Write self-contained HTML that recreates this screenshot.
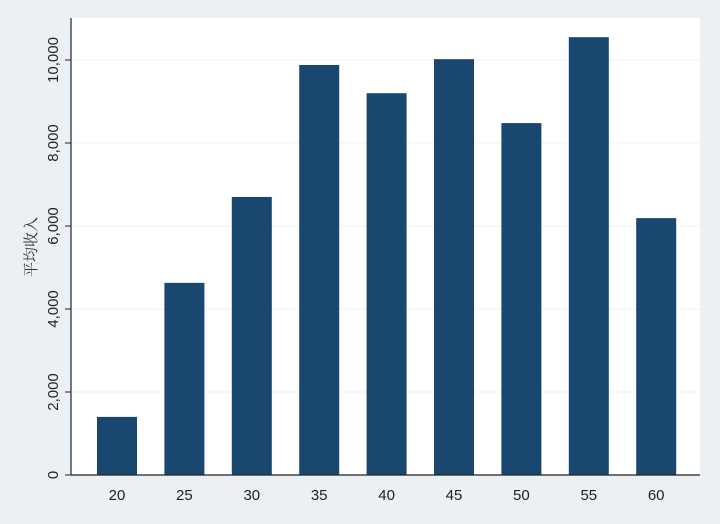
<!DOCTYPE html>
<html><head><meta charset="utf-8"><style>
html,body{margin:0;padding:0;background:#eaf0f4;}
svg{display:block;font-family:"Liberation Sans","Noto Sans CJK SC",sans-serif;}
</style></head><body>
<svg width="720" height="524">
<rect x="0" y="0" width="720" height="524" fill="#eaf0f4"/>
<rect x="71" y="18" width="629" height="457" fill="#ffffff"/>
<g id="grid"></g><g id="bars"></g><g id="axes"></g>
<text x="0" y="0" transform="translate(36,247) rotate(-90)" text-anchor="middle" font-size="15" fill="#333" font-family="'Noto Serif CJK SC','Noto Sans CJK SC',serif">平均收入</text>
</svg>
<script>
const categories=[20,25,30,35,40,45,50,55,60];
const values=[1400,4630,6700,9880,9200,10020,8480,10550,6190];
const yTicks=[0,2000,4000,6000,8000,10000];
const yTickLabels=["0","2,000","4,000","6,000","8,000","10,000"];
const NS="http://www.w3.org/2000/svg";
function y(v){return 475-v*0.0415;}
function x(c){return 117+(c-20)/5*67.4;}
const grid=document.getElementById('grid'),bars=document.getElementById('bars'),axes=document.getElementById('axes');
function mk(t,a,p){const e=document.createElementNS(NS,t);for(const k in a)e.setAttribute(k,a[k]);p.appendChild(e);return e;}
yTicks.forEach((t,i)=>{
  if(t>0){const g=mk('line',{x1:72,x2:700,y1:y(t),y2:y(t),stroke:'#eef2f5','stroke-width':1},grid);
  
  }
  const tk=mk('line',{x1:65,x2:71,y1:y(t),y2:y(t),stroke:'#222','stroke-width':1},axes);
  
  
  const lb=mk('text',{x:0,y:0,transform:`translate(58,${y(t)}) rotate(-90)`,'text-anchor':'middle','font-size':15,fill:'#222'},axes);
  lb.textContent=yTickLabels[i];
  
  
});
categories.forEach((c,i)=>{
  const r=mk('rect',{x:x(c)-20,y:y(values[i]),width:40,height:475-y(values[i]),fill:'#1a476f'},bars);
  
  
  const lb=mk('text',{x:x(c),y:500,'text-anchor':'middle','font-size':15,fill:'#222'},axes);
  lb.textContent=c;
  
  
});
const ya=mk('line',{x1:71,x2:71,y1:18,y2:475,stroke:'#222','stroke-width':1.2},axes);


const xa=mk('line',{x1:71,x2:700,y1:475,y2:475,stroke:'#222','stroke-width':1.2},axes);


</script>
</body></html>
